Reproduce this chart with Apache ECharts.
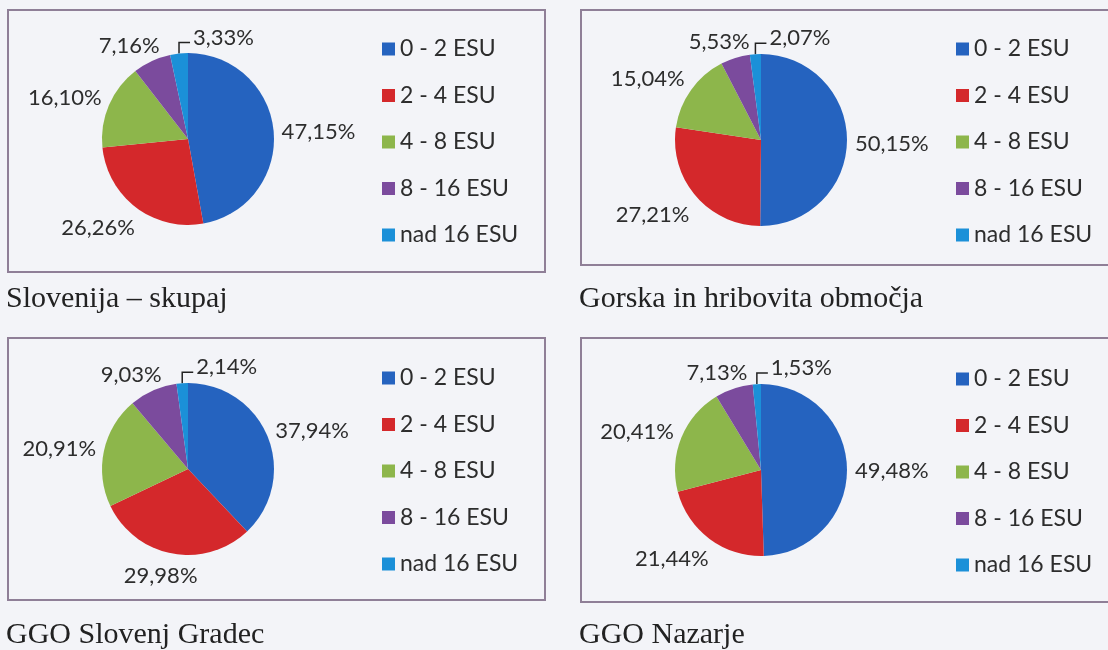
<!DOCTYPE html>
<html>
<head>
<meta charset="utf-8">
<script src="https://cdn.jsdelivr.net/npm/echarts@6/dist/echarts.min.js"></script>
<style>
  html, body { margin: 0; padding: 0; background: #f3f4f8; }
  #chart { width: 1108px; height: 650px; }
</style>
</head>
<body>
<div id="chart"></div>
<script>
// razredi ekonomske velikosti
const categories = ['0 - 2 ESU', '2 - 4 ESU', '4 - 8 ESU', '8 - 16 ESU', 'nad 16 ESU'];

// deleži (%) po območjih
const sloveniaTotal = [47.15, 26.26, 16.10, 7.16, 3.33];
const mountainAreas = [50.15, 27.21, 15.04, 5.53, 2.07];
const slovenjGradec = [37.94, 29.98, 20.91, 9.03, 2.14];
const nazarje = [49.48, 21.44, 20.41, 7.13, 1.53];

const panelTitles = ['Slovenija – skupaj', 'Gorska in hribovita območja', 'GGO Slovenj Gradec', 'GGO Nazarje'];
const panelValues = [sloveniaTotal, mountainAreas, slovenjGradec, nazarje];

const colors = ['#2563bf', '#d4282b', '#8db64b', '#7b4b9d', '#1b90d8'];

// postavitev plošč
const panels = [
  { box: [8, 10, 537, 262], center: [188, 139], legend: [382, 37], title: [6, 284] },
  { box: [581, 10, 540, 255], center: [761, 140], legend: [956, 37], title: [579, 284] },
  { box: [8, 338, 537, 262], center: [188, 469], legend: [382, 366], title: [6, 620] },
  { box: [581, 338, 540, 264], center: [761, 470], legend: [956, 367], title: [579, 620] }
];

const fmt = v => v.toFixed(2).replace('.', ',') + '%';

// položaj oznake: zunaj roba izseka, kot v Excelu
function placeLabel(params) {
  const pts = params.labelLinePoints;
  if (!pts) return {};
  const p0 = pts[0], p1 = pts[1];
  let dx = p1[0] - p0[0], dy = p1[1] - p0[1];
  const len = Math.hypot(dx, dy) || 1;
  dx /= len; dy /= len;
  const w = params.labelRect.width, h = params.labelRect.height;
  if (params.dataIndex === 4) {
    // majhen izsek: oznaka s kolenasto črto desno zgoraj
    const top = [p0[0], p0[1] - 11];
    const end = [p0[0] + 11, top[1]];
    return {
      x: end[0] + 3, y: end[1] - 5,
      align: 'left', verticalAlign: 'middle',
      labelLinePoints: [p0, top, end]
    };
  }
  const gap = 8;
  const sx = Math.max(-1, Math.min(1, dx * 1.5));
  const sy = Math.max(-1, Math.min(1, dy * 1.5));
  return {
    x: p0[0] + dx * gap + sx * w / 2,
    y: p0[1] + dy * gap + sy * h / 2 + 3,
    align: 'center', verticalAlign: 'middle'
  };
}

const chart = echarts.init(document.getElementById('chart'));

chart.setOption({
  animation: false,
  color: colors,
  title: panels.map((p, i) => ({
    text: panelTitles[i],
    left: p.title[0],
    top: p.title[1],
    padding: 0,
    textStyle: { fontFamily: 'Liberation Serif', fontSize: 30, fontWeight: 'normal', color: '#222' }
  })),
  legend: panels.map(p => ({
    data: categories,
    orient: 'vertical',
    left: p.legend[0],
    top: p.legend[1],
    padding: 0,
    icon: 'rect',
    itemWidth: 13,
    itemHeight: 13,
    itemGap: 22.5,
    selectedMode: false,
    textStyle: { fontFamily: 'Lato', fontSize: 23, lineHeight: 24, color: '#2d2d2d' }
  })),
  graphic: panels.map(p => ({
    type: 'rect',
    shape: { x: p.box[0], y: p.box[1], width: p.box[2], height: p.box[3] },
    style: { fill: 'none', stroke: '#8f7f97', lineWidth: 2 },
    silent: true
  })),
  series: panels.map((p, i) => ({
    type: 'pie',
    center: p.center,
    radius: 86,
    startAngle: 90,
    clockwise: true,
    avoidLabelOverlap: false,
    emphasis: { disabled: true },
    label: {
      show: true,
      position: 'outside',
      formatter: prm => fmt(prm.value),
      fontFamily: 'Lato',
      fontSize: 22,
      color: '#2d2d2d'
    },
    labelLine: {
      show: true,
      length: 10,
      length2: 0,
      smooth: false,
      lineStyle: { color: '#222', width: 1.5 }
    },
    labelLayout: placeLabel,
    data: categories.map((name, k) => ({
      name: name,
      value: panelValues[i][k],
      labelLine: k < 4 ? { lineStyle: { opacity: 0 } } : undefined
    }))
  }))
});
</script>
</body>
</html>
